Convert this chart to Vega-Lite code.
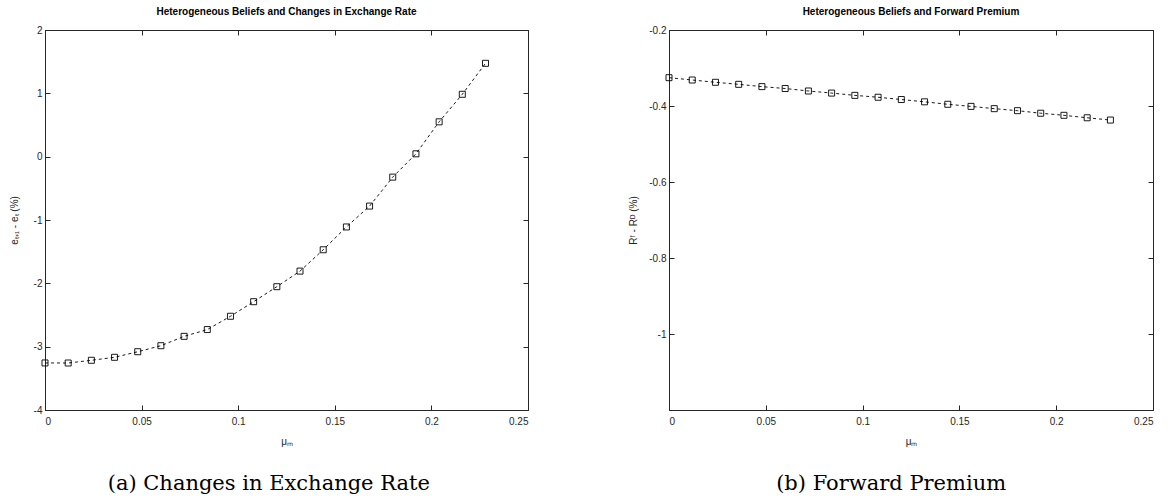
{
  "$schema": "https://vega.github.io/schema/vega-lite/v6.json",
  "background": "white",
  "padding": {"left": 8, "top": 6, "right": 5, "bottom": 5},
  "spacing": 99,
  "config": {
    "view": {"stroke": "#262626", "strokeWidth": 1},
    "axis": {
      "labelFont": "Liberation Sans", "labelFontSize": 10, "labelColor": "#262626",
      "titleFont": "Liberation Sans", "titleFontSize": 10, "titleFontWeight": "normal", "titleColor": "#262626",
      "domainColor": "#262626", "tickColor": "#262626", "tickSize": -5, "grid": false,
      "labelPadding": 8
    },
    "axisBottom": {"labelPadding": 11},
    "title": {"font": "Liberation Sans", "fontSize": 10, "fontWeight": "bold", "color": "#000000", "offset": 8}
  },
  "datasets": {
    "fx": [
      {"mu": 0, "y": -3.257}, {"mu": 0.012, "y": -3.258}, {"mu": 0.024, "y": -3.215}, {"mu": 0.036, "y": -3.168},
      {"mu": 0.048, "y": -3.08}, {"mu": 0.06, "y": -2.985}, {"mu": 0.072, "y": -2.837}, {"mu": 0.084, "y": -2.73},
      {"mu": 0.096, "y": -2.52}, {"mu": 0.108, "y": -2.29}, {"mu": 0.12, "y": -2.053}, {"mu": 0.132, "y": -1.807},
      {"mu": 0.144, "y": -1.47}, {"mu": 0.156, "y": -1.11}, {"mu": 0.168, "y": -0.78}, {"mu": 0.18, "y": -0.323},
      {"mu": 0.192, "y": 0.045}, {"mu": 0.204, "y": 0.55}, {"mu": 0.216, "y": 0.985}, {"mu": 0.228, "y": 1.474}
    ],
    "fp": [
      {"mu": 0, "y": -0.3255}, {"mu": 0.012, "y": -0.3316}, {"mu": 0.024, "y": -0.3376}, {"mu": 0.036, "y": -0.343},
      {"mu": 0.048, "y": -0.349}, {"mu": 0.06, "y": -0.354}, {"mu": 0.072, "y": -0.3605}, {"mu": 0.084, "y": -0.366},
      {"mu": 0.096, "y": -0.372}, {"mu": 0.108, "y": -0.377}, {"mu": 0.12, "y": -0.383}, {"mu": 0.132, "y": -0.389},
      {"mu": 0.144, "y": -0.3955}, {"mu": 0.156, "y": -0.401}, {"mu": 0.168, "y": -0.407}, {"mu": 0.18, "y": -0.4123},
      {"mu": 0.192, "y": -0.419}, {"mu": 0.204, "y": -0.4245}, {"mu": 0.216, "y": -0.431}, {"mu": 0.228, "y": -0.437}
    ]
  },
  "hconcat": [
    {
      "title": {"text": "(a) Changes in Exchange Rate", "orient": "bottom", "anchor": "middle", "font": "DejaVu Serif", "fontSize": 21, "fontWeight": "normal", "offset": 26},
      "vconcat": [
        {
          "title": {"text": "Heterogeneous Beliefs and Changes in Exchange Rate"},
          "width": 483, "height": 380,
          "data": {"name": "fx"},
          "layer": [
            {
              "mark": {"type": "line", "color": "black", "strokeWidth": 0.9, "strokeDash": [3, 3]},
              "encoding": {
                "x": {"field": "mu", "type": "quantitative", "scale": {"domain": [0, 0.25]},
                      "axis": {"orient": "bottom", "values": [0, 0.05, 0.1, 0.15, 0.2, 0.25], "labelExpr": "'' + datum.value", "title": "μₘ", "titlePadding": 10}},
                "y": {"field": "y", "type": "quantitative", "scale": {"domain": [-4, 2]},
                      "axis": {"orient": "left", "values": [-4, -3, -2, -1, 0, 1, 2], "labelExpr": "'' + datum.value", "title": "eₜ₊₁ - eₜ (%)", "titlePadding": 14}}
              }
            },
            {
              "mark": {"type": "point", "shape": "square", "filled": false, "color": "black", "size": 36, "strokeWidth": 0.9, "opacity": 1},
              "encoding": {
                "x": {"field": "mu", "type": "quantitative", "scale": {"domain": [0, 0.25]},
                      "axis": {"orient": "top", "values": [0, 0.05, 0.1, 0.15, 0.2, 0.25], "labels": false, "title": null}},
                "y": {"field": "y", "type": "quantitative", "scale": {"domain": [-4, 2]},
                      "axis": {"orient": "right", "values": [-4, -3, -2, -1, 0, 1, 2], "labels": false, "title": null}}
              }
            }
          ],
          "resolve": {"axis": {"x": "independent", "y": "independent"}}
        }
      ]
    },
    {
      "title": {"text": "(b) Forward Premium", "orient": "bottom", "anchor": "middle", "font": "DejaVu Serif", "fontSize": 21, "fontWeight": "normal", "offset": 26},
      "vconcat": [
        {
          "title": {"text": "Heterogeneous Beliefs and Forward Premium"},
          "width": 484, "height": 380,
          "data": {"name": "fp"},
          "layer": [
            {
              "mark": {"type": "line", "color": "black", "strokeWidth": 0.9, "strokeDash": [3, 3]},
              "encoding": {
                "x": {"field": "mu", "type": "quantitative", "scale": {"domain": [0, 0.25]},
                      "axis": {"orient": "bottom", "values": [0, 0.05, 0.1, 0.15, 0.2, 0.25], "labelExpr": "'' + datum.value", "title": "μₘ", "titlePadding": 10}},
                "y": {"field": "y", "type": "quantitative", "scale": {"domain": [-1.2, -0.2]},
                      "axis": {"orient": "left", "values": [-1, -0.8, -0.6, -0.4, -0.2], "labelExpr": "'' + datum.value", "title": "Rᶠ - Rᴰ (%)", "titlePadding": 10}}
              }
            },
            {
              "mark": {"type": "point", "shape": "square", "filled": false, "color": "black", "size": 36, "strokeWidth": 0.9, "opacity": 1},
              "encoding": {
                "x": {"field": "mu", "type": "quantitative", "scale": {"domain": [0, 0.25]},
                      "axis": {"orient": "top", "values": [0, 0.05, 0.1, 0.15, 0.2, 0.25], "labels": false, "title": null}},
                "y": {"field": "y", "type": "quantitative", "scale": {"domain": [-1.2, -0.2]},
                      "axis": {"orient": "right", "values": [-1, -0.8, -0.6, -0.4, -0.2], "labels": false, "title": null}}
              }
            }
          ],
          "resolve": {"axis": {"x": "independent", "y": "independent"}}
        }
      ]
    }
  ]
}
